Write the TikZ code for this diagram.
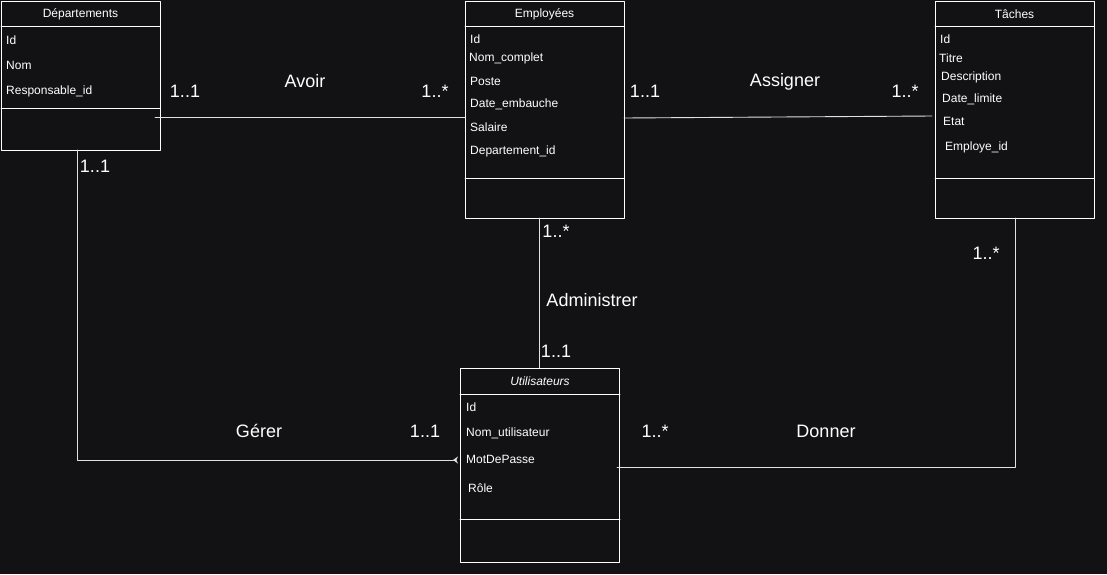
\documentclass[tikz,border=0pt]{standalone}
\usepackage{fontspec}
\setmainfont{Liberation Sans}
\usetikzlibrary{arrows.meta}
\definecolor{fond}{RGB}{18,18,20}
\definecolor{trait}{RGB}{225,225,225}
\begin{document}
\begin{tikzpicture}[x=1pt,y=-1pt, line join=round, line cap=round, text=white,
    font=\fontsize{12}{14}\selectfont,
    classe/.style={draw=white, line width=0.9pt, anchor=north west, inner sep=0pt, minimum width=159pt},
    attr/.style={anchor=west, inner sep=0pt},
    card/.style={font=\fontsize{18}{20}\selectfont, inner sep=0pt},
    lien/.style={draw=trait, line width=0.9pt}]
    \fill[fond] (0,0) rectangle (1107,574);
    \useasboundingbox (0,0) rectangle (1107,574);
    % Classes
    \node[classe, minimum height=149pt] (dep) at (1,1) {};
    \node[classe, minimum height=217pt] (emp) at (465,1) {};
    \node[classe, minimum height=217pt] (tac) at (935,1) {};
    \node[classe, minimum height=194pt] (util) at (460,368) {};
    \draw[white, line width=0.9pt] (dep.north west) ++(0,25) -- ++(159,0);
    \draw[white, line width=0.9pt] (dep.north west) ++(0,107) -- ++(159,0);
    \draw[white, line width=0.9pt] (emp.north west) ++(0,25) -- ++(159,0);
    \draw[white, line width=0.9pt] (emp.north west) ++(0,177) -- ++(159,0);
    \draw[white, line width=0.9pt] (tac.north west) ++(0,25) -- ++(159,0);
    \draw[white, line width=0.9pt] (tac.north west) ++(0,177) -- ++(159,0);
    \draw[white, line width=0.9pt] (util.north west) ++(0,26) -- ++(160,0);
    \draw[white, line width=0.9pt] (util.north west) ++(0,151) -- ++(160,0);
    \node (depT) at (80.5,14) {Départements};
    \node (empT) at (544.5,14) {Employées};
    \node (tacT) at (1014.5,14) {Tâches};
    \node (utilT) at (540,381) {\itshape Utilisateurs};
    % Attributs
    \foreach \t/\y [count=\i] in {Id/40, Nom/65, Responsable\_id/91}
        \node[attr] (dep\i) at (6,\y) {\t};
    \foreach \x/\y/\t [count=\i] in {470/39/Id, 469/58/Nom\_complet, 470/81/Poste,
        470/104/Date\_embauche, 470/127/Salaire, 470/151/Departement\_id}
        \node[attr] (emp\i) at (\x,\y) {\t};
    \foreach \x/\y/\t [count=\i] in {940/39/Id, 939/58/Titre, 941/77/Description,
        942/99/Date\_limite, 943/121/Etat, 945/147/Employe\_id}
        \node[attr] (tac\i) at (\x,\y) {\t};
    \foreach \x/\y/\t [count=\i] in {466/407/Id, 466/433/Nom\_utilisateur,
        466/459/MotDePasse, 468/488/Rôle}
        \node[attr] (util\i) at (\x,\y) {\t};
    % Associations
    \coordinate (avoirS) at (155,117);
    \coordinate (assignS) at (624,118);
    \coordinate (assignE) at (932,116);
    \coordinate (adminS) at (539,218);
    \coordinate (gererS) at (77,150);
    \coordinate (gererE) at (458,460);
    \coordinate (donnerS) at (1015,218);
    \coordinate (donnerE) at (617,467);
    \draw[lien] (avoirS) -- (avoirS -| emp.west);
    \draw[lien] (assignS) -- (assignE);
    \draw[lien] (adminS) -- (adminS |- util.north);
    \draw[lien, -{Stealth[reversed, length=5pt, width=7pt]}] (gererS) |- (gererE);
    \draw[lien] (donnerS) |- (donnerE);
    % Cardinalites
    \node[card] (avoirA) at (185,91) {1..1};
    \node[card] (avoir) at (305,81) {Avoir};
    \node[card] (avoirB) at (435,91) {1..*};
    \node[card] (assignA) at (645,91) {1..1};
    \node[card] (assign) at (785,82) {Assigner};
    \node[card] (assignB) at (905,91) {1..*};
    \node[card] (adminA) at (556,231) {1..*};
    \node[card] (admin) at (592,300) {Administrer};
    \node[card] (adminB) at (556,351) {1..1};
    \node[card] (gererA) at (95,166) {1..1};
    \node[card] (gerer) at (259,431) {Gérer};
    \node[card] (gererB) at (425,431) {1..1};
    \node[card] (donnerA) at (986,253) {1..*};
    \node[card] (donner) at (826,431) {Donner};
    \node[card] (donnerB) at (655,431) {1..*};
\end{tikzpicture}
\end{document}
